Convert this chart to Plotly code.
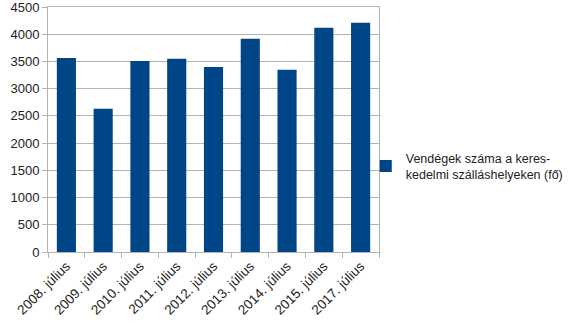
import plotly.graph_objects as go

categories = ["2008. július", "2009. július", "2010. július", "2011. július", "2012. július",
              "2013. július", "2014. július", "2015. július", "2017. július"]
values = [3565, 2630, 3510, 3548, 3400, 3915, 3346, 4118, 4210]
series_name = "Vendégek száma a keres-<br>kedelmi szálláshelyeken (fő)"
y_ticks = [0, 500, 1000, 1500, 2000, 2500, 3000, 3500, 4000, 4500]

fig = go.Figure()
fig.add_trace(go.Bar(x=categories, y=values, name=series_name, marker_color="#004586",
                     marker_line_width=0, showlegend=True))

fig.update_layout(
    width=575, height=331,
    margin=dict(l=48, r=196, t=7, b=79, autoexpand=False),
    paper_bgcolor="white", plot_bgcolor="white",
    font=dict(family="Liberation Sans, Arial, sans-serif", size=13, color="#222222"),
    bargap=0.48,
    showlegend=True,
    legend=dict(x=0.96, y=0.35, xanchor="left", yanchor="middle",
                font=dict(size=12.5, color="#222222"), itemwidth=30,
                bgcolor="rgba(0,0,0,0)"),
)
fig.update_xaxes(showline=True, linecolor="#b3b3b3", linewidth=1, mirror=True,
                 ticks="outside", tickson="boundaries", ticklen=5, tickcolor="#b3b3b3",
                 tickangle=-45, showgrid=False, tickfont=dict(size=13.5),
                 ticklabeloverflow="allow")
fig.update_yaxes(range=[0, 4500], tickvals=y_ticks, showgrid=True, gridcolor="#b3b3b3",
                 showline=True, linecolor="#b3b3b3", mirror=True,
                 ticks="outside", ticklen=5, tickcolor="#b3b3b3", zeroline=False,
                 ticklabeloverflow="allow")

fig.write_html("out.html")
